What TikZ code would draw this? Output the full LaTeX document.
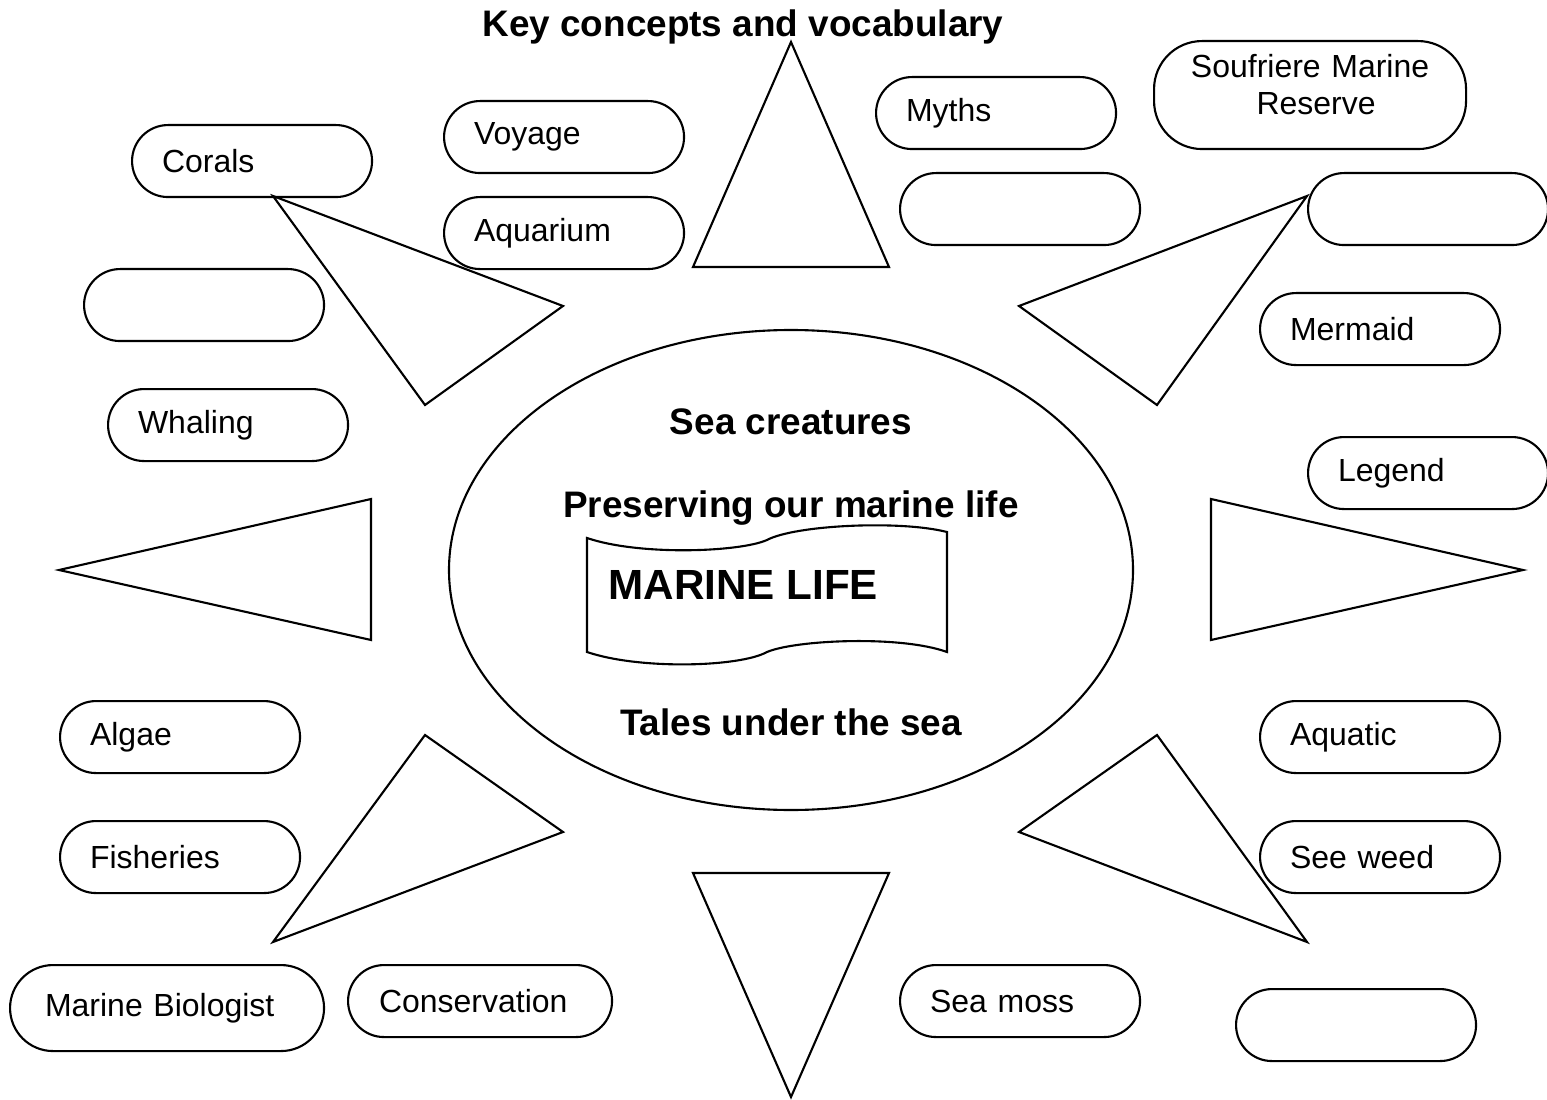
\documentclass[tikz,border=0pt]{standalone}
\usepackage{fontspec}
\setmainfont{Liberation Sans}
\usetikzlibrary{positioning}

\begin{document}
\begin{tikzpicture}[
    pill/.style={draw, line width=0.6pt, rounded corners=0.36cm, minimum width=2.4cm, minimum height=0.72cm, text width=1.8cm, inner xsep=0.3cm, inner ysep=0pt, align=left, anchor=north west, font=\fontsize{9.1}{11}\selectfont},
    widepill/.style={pill, rounded corners=0.43cm, minimum width=3.14cm, minimum height=0.86cm, text width=2.44cm, inner xsep=0.35cm},
    midpill/.style={pill, minimum width=2.64cm, text width=2.02cm, inner xsep=0.31cm},
    bigpill/.style={pill, rounded corners=0.48cm, minimum width=3.12cm, minimum height=1.08cm, text width=2.6cm, inner xsep=0.26cm, align=center, text depth=0.58cm, font=\fontsize{9.1}{10.4}\selectfont},
    spike/.style={draw, line width=0.6pt, line join=miter},
    heading/.style={font=\bfseries\fontsize{10.5}{12}\selectfont, inner sep=0pt},
    banner/.style={draw, line width=0.6pt}
  ]
    \useasboundingbox (0,0) rectangle (15.47,-11.00);

    % Titel
    \node[heading] (title) at (7.43,-0.27) {Key concepts and vocabulary};

    % Mitte
    \draw[line width=0.6pt] (7.91,-5.70) ellipse [x radius=3.42, y radius=2.40];
    \node[heading] (creatures) at (7.91,-4.22) {Sea creatures};
    \node[heading] (preserving) at (7.91,-5.08) {Preserving our marine life};
    \node[heading] (tales) at (7.91,-7.22) {Tales under the sea};

    % Fahne
    \draw[banner] (5.87,-5.38) .. controls (6.40,-5.56) and (7.40,-5.52) .. (7.67,-5.40)
      .. controls (7.95,-5.25) and (9.00,-5.20) .. (9.47,-5.32) -- (9.47,-6.52)
      .. controls (9.00,-6.35) and (7.95,-6.40) .. (7.67,-6.52)
      .. controls (7.40,-6.67) and (6.40,-6.70) .. (5.87,-6.52) -- cycle;
    \node[font=\bfseries\fontsize{12}{14}\selectfont, anchor=west, inner sep=0pt] (marine) at (6.08,-5.85) {MARINE LIFE};

    % Strahlen
    \draw[spike] (7.91,-0.42) -- (6.93,-2.67) -- (8.89,-2.67) -- cycle;
    \draw[spike] (7.91,-10.97) -- (6.93,-8.73) -- (8.89,-8.73) -- cycle;
    \draw[spike] (0.59,-5.70) -- (3.71,-4.99) -- (3.71,-6.40) -- cycle;
    \draw[spike] (15.23,-5.70) -- (12.11,-4.99) -- (12.11,-6.40) -- cycle;
    \draw[spike] (2.73,-1.96) -- (5.63,-3.06) -- (4.25,-4.05) -- cycle;
    \draw[spike] (13.07,-1.96) -- (10.19,-3.06) -- (11.57,-4.05) -- cycle;
    \draw[spike] (2.73,-9.42) -- (5.63,-8.32) -- (4.25,-7.35) -- cycle;
    \draw[spike] (13.07,-9.42) -- (10.19,-8.32) -- (11.57,-7.35) -- cycle;

    % Begriffe oben
    \node[pill] (corals) at (1.31,-1.24) {Corals};
    \node[pill] (voyage) at (4.43,-1.00) {Voyage};
    \node[pill] (aquarium) at (4.43,-1.96) {Aquarium};
    \node[pill] (myths) at (8.75,-0.76) {Myths};
    \node[pill] (blankTopMid) at (8.99,-1.72) {};
    \node[bigpill] (soufriere) at (11.53,-0.40) {Soufriere Marine\\\hspace*{0.12cm}Reserve};
    \node[pill] (blankTopRight) at (13.07,-1.72) {};

    % Begriffe seitlich
    \node[pill] (blankLeft) at (0.83,-2.68) {};
    \node[pill] (whaling) at (1.07,-3.88) {Whaling};
    \node[pill] (mermaid) at (12.59,-2.92) {Mermaid};
    \node[pill] (legend) at (13.07,-4.36) {Legend};
    \node[pill] (algae) at (0.59,-7.00) {Algae};
    \node[pill] (fisheries) at (0.59,-8.20) {Fisheries};
    \node[pill] (aquatic) at (12.59,-7.00) {Aquatic};
    \node[pill] (seeweed) at (12.59,-8.20) {See weed};

    % Begriffe unten
    \node[widepill] (biologist) at (0.09,-9.64) {Marine Biologist};
    \node[midpill] (conservation) at (3.47,-9.64) {Conservation};
    \node[pill] (seamoss) at (8.99,-9.64) {Sea moss};
    \node[pill] (blankBottom) at (12.35,-9.88) {};
  \end{tikzpicture}
\end{document}
